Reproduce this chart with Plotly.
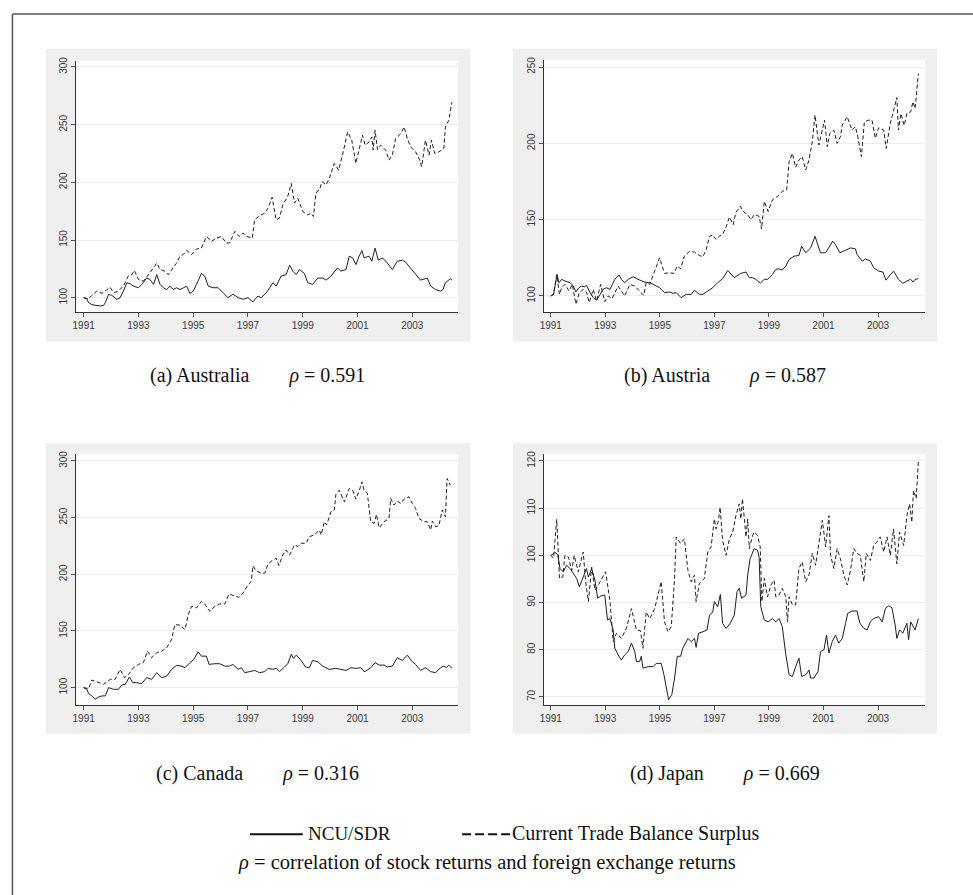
import plotly.graph_objects as go

W, H = 973, 895

# ---------------- data (year offset from 1991, index value) ----------------
years_ticks = [1991, 1993, 1995, 1997, 1999, 2001, 2003]

aus_ncu = [(0.00,100),(0.12,99),(0.18,95.7),(0.30,94),(0.42,93.4),(0.61,92.8),(0.73,93.4),(0.79,95.7),
 (0.91,102.9),(1.03,102),(1.21,98.6),(1.33,100),(1.45,105.7),(1.58,113),(1.70,112),(1.82,110),(2.00,108.6),
 (2.12,111.5),(2.30,117),(2.42,115.8),(2.55,111.5),(2.67,120),(2.79,111.5),(2.91,108.6),(3.03,107),(3.15,110),
 (3.27,107),(3.39,108.6),(3.52,107),(3.76,110),(3.88,103.7),(4.00,105.7),(4.12,111.5),(4.30,121),(4.42,118.7),
 (4.55,110),(4.73,108.6),(4.91,108.6),(5.09,104.3),(5.27,100),(5.45,103),(5.64,100),(5.82,98.6),(6.00,100),
 (6.18,96.3),(6.36,101.4),(6.48,100),(6.67,104.3),(6.79,108.6),(6.91,113),(7.03,110),(7.21,118.7),(7.39,120),
 (7.52,128),(7.64,123),(7.76,120),(7.88,124.4),(8.06,121),(8.18,113),(8.36,111.5),(8.55,117),(8.73,117),
 (8.85,115.2),(9.03,118.7),(9.27,125.9),(9.39,123),(9.58,124.4),(9.70,136),(9.82,134.5),(9.94,128.7),
 (10.06,136),(10.16,140.8),(10.24,134.5),(10.42,136),(10.52,131.6),(10.64,143),(10.76,132.5),(10.91,134.5),
 (11.09,130),(11.27,124.4),(11.45,131.6),(11.64,132.5),(11.76,130.7),(11.88,127.3),(12.06,123),(12.30,115.2),
 (12.55,117),(12.67,110),(12.85,107),(13.03,105.7),(13.12,107),(13.21,113),(13.39,116.4),(13.45,115.2)]

aus_ctb = [(0.00,100),(0.18,99),(0.30,102),(0.48,105.7),(0.67,103.7),(0.85,107),(0.97,109),(1.09,104.3),
 (1.27,105.7),(1.45,110),(1.64,119.3),(1.76,120),(1.85,123.6),(2.00,115.8),(2.18,114.4),(2.42,121.6),
 (2.67,130),(2.79,124.4),(2.97,123),(3.09,120),(3.27,125.9),(3.39,130),(3.52,136),(3.64,137.4),(3.76,141),
 (3.94,137.4),(4.12,142.2),(4.30,143),(4.48,153),(4.67,148.9),(4.85,151.7),(5.03,153),(5.21,147.4),
 (5.33,147.4),(5.52,157.5),(5.67,153),(5.82,156),(5.96,153),(6.16,151.7),(6.24,167.5),(6.42,171),(6.61,173.3),
 (6.73,177.6),(6.88,187),(7.03,167.5),(7.15,169),(7.27,180.5),(7.45,187.6),(7.58,199),(7.70,182),(7.82,186.2),
 (8.00,174.7),(8.18,171.8),(8.30,173.3),(8.39,170.4),(8.48,190.5),(8.63,194.8),(8.70,200.6),(8.85,197.7),
 (8.97,203.4),(9.15,216.4),(9.31,210.6),(9.45,223.6),(9.64,243.7),(9.79,236.5),(9.94,216.4),(10.08,230.7),
 (10.18,240.8),(10.28,232.2),(10.42,235),(10.52,239.4),(10.57,227.9),(10.64,245.1),(10.73,228.4),
 (10.85,232.2),(11.03,227.9),(11.15,219.3),(11.27,223.6),(11.39,237.9),(11.58,242.2),(11.70,248),
 (11.82,237.9),(11.94,230.7),(12.12,226.4),(12.27,219.3),(12.34,213.5),(12.48,236.5),(12.61,223.6),
 (12.70,236.5),(12.82,225),(12.97,226.4),(13.15,229.3),(13.21,248),(13.33,253.7),(13.45,269.5)]

aut_ncu = [(0.00,100),(0.10,101),(0.18,108.7),(0.23,114),(0.30,108.7),(0.40,110.9),(0.52,109.8),(0.71,108.7),
 (0.83,106.5),(0.92,102.6),(1.03,105.4),(1.13,106.5),(1.25,106),(1.31,107),(1.44,102.2),(1.56,98.9),
 (1.68,97.2),(1.80,101.1),(1.92,104.3),(2.04,105.4),(2.17,104.3),(2.35,110.9),(2.51,113.7),(2.59,110.9),
 (2.71,108.7),(2.84,110.9),(3.02,112.6),(3.20,110.9),(3.32,109.8),(3.44,109.1),(3.63,108.7),(3.81,107),
 (3.99,105.4),(4.17,102.2),(4.36,102.6),(4.48,101.7),(4.60,102.2),(4.78,98.9),(4.97,101.1),(5.15,101.1),
 (5.27,103.7),(5.45,101.1),(5.58,101.1),(5.76,103.3),(5.94,105.4),(6.12,108.7),(6.30,111.3),(6.49,116.7),
 (6.61,114.1),(6.73,112),(6.97,114.8),(7.16,115.7),(7.28,112),(7.40,112),(7.52,110.9),(7.68,108.3),
 (7.83,110.9),(7.95,110.9),(8.13,114.1),(8.25,117.4),(8.37,117.8),(8.49,117),(8.62,119.6),(8.74,123.9),
 (8.92,126.1),(9.10,126.5),(9.20,132.6),(9.35,128.3),(9.53,131.5),(9.69,139.1),(9.77,134.8),(9.89,128.3),
 (10.08,128.3),(10.20,131.5),(10.34,135.9),(10.44,133.7),(10.60,128.3),(10.81,130),(10.99,131.5),
 (11.17,130.9),(11.23,127.2),(11.42,122.8),(11.54,124.3),(11.72,122.8),(11.84,118.5),(12.02,116.3),
 (12.18,115.7),(12.29,110.4),(12.39,112.6),(12.57,116.3),(12.75,110.9),(12.91,108.3),(13.06,109.8),
 (13.20,110.9),(13.28,109.1),(13.36,110.9),(13.48,111.3)]

aut_ctb = [(0.00,100),(0.10,101),(0.22,114),(0.32,101),(0.40,105.4),(0.52,107.6),(0.67,103.3),(0.79,107.6),
 (0.92,94.6),(1.05,102.2),(1.19,104.3),(1.31,102.6),(1.41,95.7),(1.56,104.3),(1.68,96.7),(1.83,107.6),
 (1.98,96.3),(2.11,100),(2.25,98.3),(2.47,106.5),(2.71,100),(2.90,107.6),(3.08,106.5),(3.26,103.3),
 (3.41,100.4),(3.50,108.7),(3.63,107.6),(3.81,116.3),(3.99,125),(4.17,114.8),(4.36,115.2),(4.52,114.8),
 (4.64,119.6),(4.76,117.8),(4.90,126.1),(5.09,129.3),(5.27,128.7),(5.45,126.5),(5.58,125.7),(5.70,130.4),
 (5.82,139.1),(5.94,140),(6.06,137),(6.18,139.1),(6.30,140.2),(6.43,145.2),(6.55,151.7),(6.69,146.7),
 (6.79,154.8),(6.95,158.7),(7.09,154.8),(7.22,153.3),(7.34,150),(7.46,153.3),(7.64,152.2),(7.73,143.9),
 (7.83,162),(7.97,155.4),(8.13,163),(8.31,165.2),(8.49,168.5),(8.65,169.6),(8.74,188),(8.86,193.5),
 (8.98,184.3),(9.10,189.1),(9.22,191.3),(9.35,182.6),(9.47,189.1),(9.59,201.1),(9.69,218.5),(9.83,198.9),
 (9.96,208.7),(10.04,215.2),(10.14,197.8),(10.23,206.5),(10.38,208.7),(10.50,200),(10.62,204.3),
 (10.69,212),(10.87,217.4),(11.05,208.7),(11.17,210.9),(11.26,204.3),(11.39,191.3),(11.50,214.1),
 (11.66,215.2),(11.78,215.2),(11.90,203.3),(12.02,210.2),(12.21,208.7),(12.30,196.7),(12.45,213),
 (12.60,223.9),(12.69,230),(12.75,208.7),(12.84,219.6),(12.96,211.7),(13.06,219.6),(13.20,220.7),
 (13.28,227.2),(13.36,222.8),(13.48,245.7)]

can_ncu = [(0.00,100),(0.12,98.5),(0.18,94.7),(0.30,92.7),(0.42,89.8),(0.55,91.8),(0.67,92.7),(0.79,92.7),
 (0.91,100),(1.09,98.5),(1.27,98.5),(1.39,102.3),(1.52,102.9),(1.67,109.4),(1.79,104.4),(1.94,104.4),
 (2.12,103.5),(2.30,108.8),(2.48,107.3),(2.67,113.2),(2.85,108.8),(3.03,110.2),(3.21,116.1),(3.39,119.6),
 (3.58,119),(3.70,117.6),(3.88,122),(4.02,124.9),(4.18,131.6),(4.30,127.8),(4.48,127.8),(4.58,120.5),
 (4.79,121.1),(4.97,121.1),(5.15,119),(5.33,119),(5.45,120.5),(5.64,116.1),(5.76,117.6),(5.88,113.2),
 (6.06,114.1),(6.24,115.2),(6.42,113.2),(6.61,114.1),(6.73,117),(6.91,116.1),(7.03,117),(7.15,114.1),
 (7.33,118.2),(7.45,121.1),(7.58,129.3),(7.66,125.8),(7.76,128.7),(7.94,124),(8.10,118.2),(8.24,117.6),
 (8.36,124),(8.55,122.8),(8.73,119),(8.97,116.1),(9.21,117),(9.39,116.1),(9.58,115.2),(9.76,117.6),
 (9.94,117),(10.12,117.6),(10.24,114.1),(10.30,114.6),(10.48,117.6),(10.64,122),(10.79,119.9),
 (10.97,119.9),(11.09,118.2),(11.27,119),(11.45,126.4),(11.64,124),(11.82,128.7),(12.00,122.8),
 (12.12,120.5),(12.30,115.2),(12.48,117.6),(12.67,114.1),(12.85,113.2),(13.03,117.6),(13.15,119),
 (13.24,117.6),(13.33,119.9),(13.45,117)]

can_ctb = [(0.00,100),(0.18,99.1),(0.30,106.7),(0.48,105.3),(0.73,102.9),(0.97,107.3),(1.15,107.3),
 (1.33,116.1),(1.49,108.8),(1.64,111.7),(1.82,117.6),(2.00,120.5),(2.18,122),(2.33,132.2),(2.48,126.4),
 (2.67,130.7),(2.85,132.2),(3.03,135.1),(3.21,142.5),(3.33,155.6),(3.52,155.1),(3.70,151.2),(3.82,164.4),
 (3.94,171.7),(4.12,170.3),(4.30,176.1),(4.42,173.8),(4.61,167.3),(4.79,171.7),(4.97,173.8),(5.15,173.8),
 (5.31,182.6),(5.45,181.4),(5.67,179.6),(5.82,183.5),(6.00,190.8),(6.12,193.7),(6.18,207.4),(6.30,203.1),
 (6.48,201),(6.61,201),(6.73,209),(6.91,212.7),(7.03,214.2),(7.13,207.8),(7.27,217.1),(7.39,221.5),
 (7.52,217.1),(7.70,225.9),(7.82,224.5),(7.94,227.4),(8.12,227.4),(8.24,233.2),(8.42,234.7),(8.61,239.1),
 (8.67,234.7),(8.79,246.4),(8.87,243.5),(9.03,255.2),(9.15,256.7),(9.21,270.4),(9.33,274.2),(9.52,264),
 (9.70,275.7),(9.82,274.2),(9.94,266.3),(10.06,273.4),(10.16,281.6),(10.24,274.2),(10.36,271.3),
 (10.48,246.4),(10.61,245),(10.69,252.9),(10.79,241.1),(10.97,246.4),(11.15,249.3),(11.21,266.9),
 (11.33,261.1),(11.45,264.6),(11.58,262.5),(11.70,266.3),(11.88,268.4),(12.00,262.5),(12.12,258.1),
 (12.24,249.3),(12.42,246.4),(12.55,246.4),(12.67,239.1),(12.73,247),(12.85,242),(12.97,242.9),
 (13.09,256.7),(13.21,250.8),(13.27,284.5),(13.39,278.6)]

jpn_ncu = [(0.00,100),(0.10,100.4),(0.18,100.6),(0.26,100),(0.34,97.2),(0.46,96.5),(0.58,97.9),(0.71,97.2),
 (0.83,96.1),(0.95,95.1),(1.05,93.3),(1.19,95.4),(1.31,97.2),(1.38,95.4),(1.50,97.2),(1.62,94.7),(1.72,90.9),
 (1.84,91.4),(1.98,91.6),(2.08,86.3),(2.17,86.6),(2.29,84.2),(2.35,80.3),(2.47,78.9),(2.59,77.8),(2.71,78.9),
 (2.84,79.6),(2.96,81.4),(3.08,79.6),(3.14,77.5),(3.26,77.5),(3.32,78.6),(3.38,76.1),(3.57,76.4),(3.75,76.4),
 (3.87,77.1),(4.05,77.1),(4.15,74.7),(4.24,71.9),(4.32,69.4),(4.44,70.5),(4.54,74),(4.64,78.6),(4.76,78.6),
 (4.84,80.3),(5.03,82.4),(5.15,81.7),(5.27,82.4),(5.33,80.5),(5.42,83.5),(5.58,83.8),(5.73,84.2),(5.82,87.3),
 (5.94,88),(6.00,90.2),(6.12,89.1),(6.22,91.7),(6.30,85.6),(6.43,84.5),(6.58,85.6),(6.73,87.3),(6.83,92.3),
 (6.91,93),(7.00,90.9),(7.16,91.6),(7.22,95.8),(7.31,99.3),(7.46,101.4),(7.58,101.1),(7.64,99.6),(7.70,89.1),
 (7.83,86.3),(7.97,85.9),(8.13,86.6),(8.25,85.9),(8.37,86.6),(8.49,84.9),(8.62,78.9),(8.74,74.7),(8.86,74.3),
 (8.98,76.4),(9.10,78.2),(9.20,74.3),(9.35,74.7),(9.47,75.7),(9.53,74),(9.65,74),(9.80,75.4),(9.89,79.6),
 (10.02,80),(10.11,83.1),(10.20,79.3),(10.32,81.7),(10.44,83.1),(10.56,81.4),(10.69,82.4),(10.81,85.6),
 (10.89,87.7),(11.05,88.2),(11.23,88.2),(11.33,85.7),(11.48,84.5),(11.60,84.2),(11.72,85.9),(11.84,86.6),
 (12.02,87),(12.15,85.9),(12.27,88.7),(12.39,89.3),(12.51,88.9),(12.63,85.2),(12.69,82.4),(12.79,84.2),
 (12.91,83.5),(13.06,85.6),(13.12,82.1),(13.20,85.9),(13.36,84.2),(13.48,86.6)]

jpn_ctb = [(0.00,100),(0.10,99.4),(0.22,107.6),(0.32,95.1),(0.44,95.4),(0.52,100),(0.65,99.6),(0.77,96.8),
 (0.86,100),(1.01,96.5),(1.19,100.7),(1.28,94.4),(1.38,90.2),(1.50,97.5),(1.62,92.6),(1.74,93.7),(2.01,96.5),
 (2.17,90.5),(2.29,81.7),(2.41,83.5),(2.59,82.4),(2.77,84.5),(2.96,88.7),(3.14,84.2),(3.29,84),(3.38,80.3),
 (3.50,88),(3.63,86.6),(3.81,88.7),(4.05,94.4),(4.17,85.9),(4.30,83.8),(4.42,84.9),(4.54,95.1),(4.60,103.9),
 (4.76,102.5),(4.90,103.5),(5.03,96.8),(5.15,94.4),(5.27,95.8),(5.33,90.2),(5.45,94),(5.63,95.1),
 (5.76,100.7),(5.88,101.8),(6.00,107.7),(6.06,105.6),(6.15,107.4),(6.21,110.2),(6.30,103.2),(6.43,100),
 (6.55,103.5),(6.67,104.9),(6.79,108.4),(6.91,110.9),(6.97,107.7),(7.03,112),(7.16,103.9),(7.22,107.7),
 (7.28,101.4),(7.40,104.2),(7.46,104.9),(7.58,104.2),(7.68,101.8),(7.74,90.2),(7.83,95.1),(7.95,91.2),
 (8.07,93.7),(8.19,94.7),(8.25,91.2),(8.37,91.6),(8.49,93),(8.62,91.2),(8.68,85.9),(8.74,91.2),(8.86,89.5),
 (8.98,89.5),(9.10,97.2),(9.22,98.6),(9.35,94.4),(9.47,95.8),(9.59,100.4),(9.71,97.9),(9.83,102.8),
 (9.96,107.4),(10.08,101.8),(10.20,108.4),(10.26,100),(10.38,97.2),(10.50,101.4),(10.62,99.3),(10.75,95.8),
 (10.87,93.7),(10.99,96.8),(11.11,101.4),(11.23,100.4),(11.35,100),(11.48,94.4),(11.57,100.4),(11.72,98.9),
 (11.84,102.1),(11.96,102.8),(12.08,103.9),(12.21,100.7),(12.33,103.9),(12.45,100),(12.57,105.6),
 (12.69,98.2),(12.79,104.9),(12.94,102.1),(13.06,108.4),(13.16,110.9),(13.24,107),(13.30,113.7),
 (13.40,112),(13.48,120)]

captions = ["(a) Australia", "(b) Austria", "(c) Canada", "(d) Japan"]
rhos = ["0.591", "0.587", "0.316", "0.669"]
series_names = ["NCU/SDR", "Current Trade Balance Surplus"]
footnote = "ρ = correlation of stock returns and foreign exchange returns"

panels = [
    dict(ncu=aus_ncu, ctb=aus_ctb, yticks=[100, 150, 200, 250, 300], yr=[87.66, 305.4]),
    dict(ncu=aut_ncu, ctb=aut_ctb, yticks=[100, 150, 200, 250], yr=[89.56, 254.76]),
    dict(ncu=can_ncu, ctb=can_ctb, yticks=[100, 150, 200, 250, 300], yr=[84.54, 305.9]),
    dict(ncu=jpn_ncu, ctb=jpn_ctb, yticks=[70, 80, 90, 100, 110, 120], yr=[68.25, 121.41]),
]

# ---------------- layout geometry (pixels) ----------------
plot_boxes = [  # x0, x1, y_top, y_bottom
    (72.7, 456.0, 57.0, 309.3),
    (542.3, 925.0, 56.0, 309.3),
    (72.7, 456.0, 452.3, 704.3),
    (542.3, 925.0, 452.3, 704.3),
]
grey_boxes = [
    (42, 468, 45, 339),
    (511, 937, 45, 339),
    (42, 468, 441, 733),
    (511, 937, 441, 733),
]
xranges = [[1990.735, 2004.673], [1990.755, 2004.73], [1990.735, 2004.673], [1990.755, 2004.73]]
caption_pos = [(255, 373), (724, 373), (255, 773), (724, 773)]

def px(x):
    return x / W

def py(y):
    return 1 - y / H

fig = go.Figure()
LINE_COL = "#1e1e1e"
for i, p in enumerate(panels):
    suffix = "" if i == 0 else str(i + 1)
    xs = [1991 + t for t, v in p["ncu"]]
    ys = [v for t, v in p["ncu"]]
    fig.add_trace(go.Scatter(x=xs, y=ys, mode="lines", name=series_names[0],
                             line=dict(color=LINE_COL, width=1), showlegend=False,
                             xaxis="x" + suffix, yaxis="y" + suffix))
    xs = [1991 + t for t, v in p["ctb"]]
    ys = [v for t, v in p["ctb"]]
    fig.add_trace(go.Scatter(x=xs, y=ys, mode="lines", name=series_names[1],
                             line=dict(color=LINE_COL, width=1, dash="4px,2.5px"), showlegend=False,
                             xaxis="x" + suffix, yaxis="y" + suffix))

tickfont = dict(family="Liberation Sans, Arial, sans-serif", size=10, color="#3a3a3a")
layout = dict(
    width=W, height=H, margin=dict(l=0, r=0, t=0, b=0),
    paper_bgcolor="white", plot_bgcolor="white", showlegend=False,
)
for i, p in enumerate(panels):
    suffix = "" if i == 0 else str(i + 1)
    x0, x1, yt, yb = plot_boxes[i]
    layout["xaxis" + suffix] = dict(
        domain=[px(x0), px(x1)], range=xranges[i], anchor="y" + suffix,
        tickvals=years_ticks, ticktext=[str(y) for y in years_ticks],
        ticks="outside", ticklen=4, tickcolor="#555", tickwidth=1,
        showline=True, linecolor="#333", linewidth=1, showgrid=False, zeroline=False,
        tickfont=tickfont,
    )
    layout["yaxis" + suffix] = dict(
        domain=[py(yb), py(yt)], range=p["yr"], anchor="x" + suffix,
        tickvals=p["yticks"], ticktext=[str(v) for v in p["yticks"]], tickangle=-90,
        ticks="outside", ticklen=4, tickcolor="#555", tickwidth=1,
        showline=True, linecolor="#333", linewidth=1,
        showgrid=True, gridcolor="#ececec", gridwidth=1, zeroline=False,
        tickfont=tickfont,
    )

shapes = []
for i, (gx0, gx1, gy0, gy1) in enumerate(grey_boxes):
    shapes.append(dict(type="rect", xref="paper", yref="paper", layer="below",
                       x0=px(gx0), x1=px(gx1), y0=py(gy1), y1=py(gy0),
                       fillcolor="#efefef", line=dict(width=0)))
    x0, x1, yt, yb = plot_boxes[i]
    shapes.append(dict(type="rect", xref="paper", yref="paper", layer="below",
                       x0=px(x0), x1=px(x1), y0=py(yb), y1=py(yt),
                       fillcolor="white", line=dict(width=0)))
# outer frame (left and top edges visible)
shapes.append(dict(type="line", xref="paper", yref="paper", x0=px(8.5), x1=px(8.5), y0=0, y1=py(10),
                   line=dict(color="#555", width=1.5)))
shapes.append(dict(type="line", xref="paper", yref="paper", x0=px(8.5), x1=1, y0=py(10), y1=py(10),
                   line=dict(color="#555", width=1.5)))
# legend samples
shapes.append(dict(type="line", xref="paper", yref="paper", x0=px(247), x1=px(300), y0=py(834), y1=py(834),
                   line=dict(color="#111", width=2)))
shapes.append(dict(type="line", xref="paper", yref="paper", x0=px(460), x1=px(510), y0=py(834), y1=py(834),
                   line=dict(color="#111", width=2, dash="9px,4px")))
layout["shapes"] = shapes

serif = dict(family="Liberation Serif, Times New Roman, serif", size=20, color="#111")
annotations = []
for i in range(4):
    cx, cy = caption_pos[i]
    annotations.append(dict(
        xref="paper", yref="paper", x=px(cx), y=py(cy), xanchor="center", yanchor="middle",
        text=captions[i] + "\u2003\u2003<i>ρ</i> = " + rhos[i], showarrow=False, font=serif))
annotations.append(dict(xref="paper", yref="paper", x=px(303), y=py(833), xanchor="left", yanchor="middle",
                        text=series_names[0], showarrow=False,
                        font=dict(family=serif["family"], size=19, color="#111")))
annotations.append(dict(xref="paper", yref="paper", x=px(508), y=py(833), xanchor="left", yanchor="middle",
                        text=series_names[1], showarrow=False, font=serif))
annotations.append(dict(xref="paper", yref="paper", x=px(485), y=py(862), xanchor="center", yanchor="middle",
                        text="<i>ρ</i>" + footnote[1:], showarrow=False,
                        font=dict(family=serif["family"], size=20.5, color="#111")))
layout["annotations"] = annotations

fig.update_layout(**layout)
fig.write_html("out.html", post_script="document.body.style.margin='0';",
               config={"displayModeBar": False})
